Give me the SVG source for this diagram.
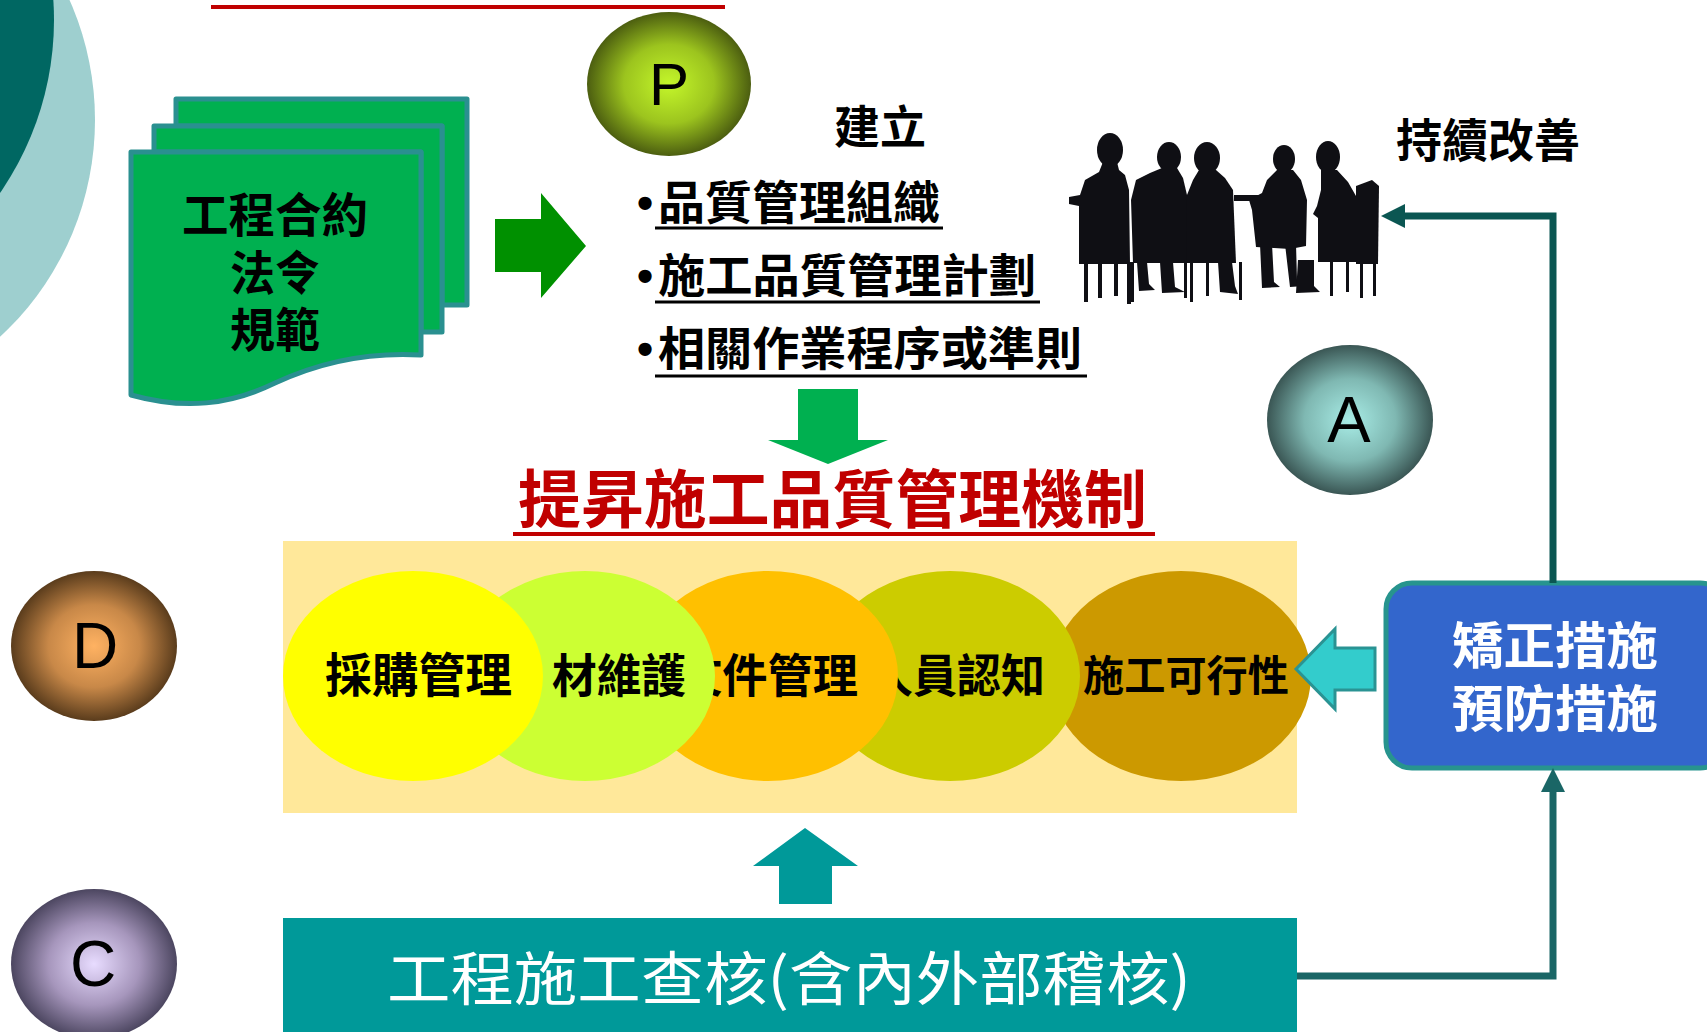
<svg xmlns="http://www.w3.org/2000/svg" width="1707" height="1032" viewBox="0 0 1707 1032">
  <style>
    .cjk { font-family: "Noto Sans CJK TC", "Noto Sans CJK SC", sans-serif; }
    .mix { font-family: "Liberation Sans", "Noto Sans CJK TC", "Noto Sans CJK SC", sans-serif; }
    .b { font-weight: 700; }
    .lat { font-family: "Liberation Sans", Arial, sans-serif; }
    .ink { fill: #000; }
    .page { fill: #00b050; stroke: #2a9090; stroke-width: 5; stroke-linejoin: round; }
    .uline { stroke: #000; stroke-width: 3; }
    .sil { fill: #0f0f14; }
    .circ-text { font-size: 46px; }
  </style>
  <defs>
    <radialGradient id="gP" cx="50%" cy="50%" r="50%">
      <stop offset="0" stop-color="#c4f62a"/>
      <stop offset="0.55" stop-color="#9cc41e"/>
      <stop offset="1" stop-color="#4c5e10"/>
    </radialGradient>
    <radialGradient id="gA" cx="50%" cy="50%" r="50%">
      <stop offset="0" stop-color="#a8ece6"/>
      <stop offset="0.55" stop-color="#7fb8b2"/>
      <stop offset="1" stop-color="#3a5654"/>
    </radialGradient>
    <radialGradient id="gD" cx="50%" cy="50%" r="50%">
      <stop offset="0" stop-color="#ffb262"/>
      <stop offset="0.55" stop-color="#c88848"/>
      <stop offset="1" stop-color="#5a3c1c"/>
    </radialGradient>
    <radialGradient id="gC" cx="50%" cy="50%" r="50%">
      <stop offset="0" stop-color="#e8dcff"/>
      <stop offset="0.55" stop-color="#a696bc"/>
      <stop offset="1" stop-color="#4c4660"/>
    </radialGradient>
    <marker id="headDark" viewBox="0 0 24 24" markerUnits="userSpaceOnUse" markerWidth="24" markerHeight="24" refX="10" refY="12" orient="auto">
      <path d="M0,0 L24,12 L0,24 Z" fill="#0b5652"/>
    </marker>
    <marker id="headTeal" viewBox="0 0 24 24" markerUnits="userSpaceOnUse" markerWidth="24" markerHeight="24" refX="10" refY="12" orient="auto">
      <path d="M0,0 L24,12 L0,24 Z" fill="#1a6666"/>
    </marker>
  </defs>

  <rect width="1707" height="1032" fill="#fff"/>

  <!-- decorative corner discs and header rule -->
  <g id="decor">
    <circle cx="-200" cy="120" r="295" fill="#9ecfcf"/>
    <circle cx="-250" cy="20" r="304" fill="#006762"/>
    <rect x="211" y="5" width="514" height="4" fill="#c00000"/>
  </g>

  <!-- stacked documents: contract / law / spec -->
  <g id="doc-stack">
    <path class="page" d="M176,99 H467 V305 H442 V126 H176 Z"/>
    <path class="page" d="M154,126 H442 V332 H421 V152 H154 Z"/>
    <path class="page" d="M131,152 H421 V355 C370,352 320,362 275,383 C230,405 185,410 131,395 Z"/>
    <text class="mix b ink" font-size="47" x="182" y="232" textLength="186" lengthAdjust="spacingAndGlyphs">工程合約</text>
    <text class="mix b ink" font-size="47" x="230" y="290" textLength="90" lengthAdjust="spacingAndGlyphs">法令</text>
    <text class="mix b ink" font-size="47" x="230" y="347" textLength="90" lengthAdjust="spacingAndGlyphs">規範</text>
  </g>

  <!-- P stage -->
  <g id="node-p">
    <ellipse cx="669" cy="84" rx="82" ry="72" fill="url(#gP)"/>
    <text class="lat" font-size="60" x="669" y="105" text-anchor="middle">P</text>
  </g>

  <!-- plan items -->
  <g id="plan-items">
    <text class="cjk b ink" font-size="45" x="834" y="144" textLength="92" lengthAdjust="spacingAndGlyphs">建立</text>
    <text class="lat b ink" font-size="46" x="637" y="219">•</text>
    <text class="cjk b ink" font-size="46" x="658" y="219" textLength="282" lengthAdjust="spacingAndGlyphs">品質管理組織</text>
    <line class="uline" x1="655" y1="228" x2="943" y2="228"/>
    <text class="lat b ink" font-size="46" x="637" y="292">•</text>
    <text class="cjk b ink" font-size="46" x="658" y="292" textLength="378" lengthAdjust="spacingAndGlyphs">施工品質管理計劃</text>
    <line class="uline" x1="655" y1="302" x2="1040" y2="302"/>
    <text class="lat b ink" font-size="46" x="637" y="365">•</text>
    <text class="cjk b ink" font-size="46" x="658" y="365" textLength="424" lengthAdjust="spacingAndGlyphs">相關作業程序或準則</text>
    <line class="uline" x1="655" y1="376" x2="1087" y2="376"/>
  </g>

  <!-- meeting silhouettes -->
  <g id="people">
    <text class="cjk b ink" font-size="46" x="1396" y="157" textLength="184" lengthAdjust="spacingAndGlyphs">持續改善</text>
    <g class="sil">
      <!-- figure 1 -->
      <ellipse cx="1110" cy="150" rx="13" ry="17"/>
      <path d="M1103,162 L1117,162 L1119,170 L1125,175 L1129,190 L1130,264 L1079,264 L1079,206 L1069,204 L1069,197 L1080,195 L1085,180 L1099,172 Z"/>
      <rect x="1084" y="262" width="4" height="40"/>
      <rect x="1098" y="262" width="4" height="36"/>
      <rect x="1114" y="262" width="4" height="34"/>
      <rect x="1127" y="262" width="4" height="42"/>
      <!-- figure 2 -->
      <ellipse cx="1169" cy="157" rx="12" ry="15"/>
      <path d="M1162,168 L1177,168 L1183,178 L1187,195 L1188,263 L1133,263 L1131,200 L1136,180 L1150,173 Z"/>
      <path d="M1137,262 L1147,262 L1149,284 L1155,290 L1139,291 Z"/>
      <path d="M1160,262 L1173,262 L1175,287 L1185,292 L1162,293 Z"/>
      <rect x="1131" y="262" width="3" height="40"/>
      <rect x="1184" y="262" width="3" height="36"/>
      <!-- figure 3 -->
      <ellipse cx="1207" cy="158" rx="13" ry="16"/>
      <path d="M1199,170 L1216,170 L1225,178 L1233,190 L1236,263 L1186,263 L1187,195 L1193,180 Z"/>
      <rect x="1234" y="195" width="28" height="6"/>
      <path d="M1218,262 L1232,262 L1235,286 L1238,294 L1220,292 Z"/>
      <rect x="1190" y="262" width="3" height="40"/>
      <rect x="1206" y="262" width="3" height="34"/>
      <rect x="1239" y="262" width="3" height="38"/>
      <!-- figure 4 -->
      <ellipse cx="1284" cy="159" rx="11" ry="14"/>
      <path d="M1277,170 L1293,170 L1301,180 L1307,200 L1306,246 L1290,249 L1256,247 L1252,210 L1249,200 L1262,193 L1267,180 Z"/>
      <path d="M1260,244 L1272,244 L1274,282 L1280,287 L1262,288 Z"/>
      <path d="M1285,244 L1296,244 L1297,280 L1304,286 L1290,287 Z"/>
      <!-- figure 5 -->
      <ellipse cx="1328" cy="157" rx="12" ry="16"/>
      <path d="M1321,170 L1337,170 L1348,182 L1356,196 L1360,262 L1318,262 L1318,218 L1313,214 L1317,206 L1321,190 Z"/>
      <path d="M1356,186 L1372,180 L1379,186 L1378,264 L1356,264 Z"/>
      <path d="M1298,260 L1314,260 L1314,286 L1320,292 L1296,293 Z"/>
      <rect x="1330" y="262" width="3" height="34"/>
      <rect x="1346" y="262" width="3" height="30"/>
      <rect x="1360" y="262" width="3" height="36"/>
      <rect x="1373" y="262" width="3" height="34"/>
    </g>
  </g>

  <!-- A stage -->
  <g id="node-a">
    <ellipse cx="1350" cy="420" rx="83" ry="75" fill="url(#gA)"/>
    <text class="lat" font-size="65" x="1349" y="442" text-anchor="middle">A</text>
  </g>

  <!-- mechanism heading -->
  <g id="title">
    <text class="cjk b" fill="#c00000" font-size="63" x="518" y="522" textLength="629" lengthAdjust="spacingAndGlyphs">提昇施工品質管理機制</text>
    <rect x="513" y="532" width="642" height="4" fill="#c00000"/>
  </g>

  <!-- mechanism band, right-to-left so each disc overlaps its right neighbour -->
  <g id="mechanism">
    <rect x="283" y="541" width="1014" height="272" fill="#ffe89a"/>
    <ellipse cx="1181" cy="676" rx="130" ry="105" fill="#cc9900"/>
    <text class="cjk b ink" font-size="42" x="1083" y="691" textLength="206" lengthAdjust="spacingAndGlyphs">施工可行性</text>
    <ellipse cx="950" cy="676" rx="130" ry="105" fill="#cccc00"/>
    <text class="cjk b ink circ-text" x="869" y="692" textLength="176" lengthAdjust="spacingAndGlyphs">人員認知</text>
    <ellipse cx="768" cy="676" rx="130" ry="105" fill="#ffc000"/>
    <text class="cjk b ink circ-text" x="677" y="692" textLength="181" lengthAdjust="spacingAndGlyphs">文件管理</text>
    <ellipse cx="585" cy="676" rx="130" ry="105" fill="#ccff33"/>
    <text class="cjk b ink circ-text" x="552" y="692" textLength="134" lengthAdjust="spacingAndGlyphs">材維護</text>
    <ellipse cx="413" cy="676" rx="130" ry="105" fill="#ffff00"/>
    <text class="cjk b ink" font-size="47" x="325" y="692" textLength="187" lengthAdjust="spacingAndGlyphs">採購管理</text>
  </g>

  <!-- D stage -->
  <g id="node-d">
    <ellipse cx="94" cy="646" rx="83" ry="75" fill="url(#gD)"/>
    <text class="lat" font-size="64" x="95" y="668" text-anchor="middle">D</text>
  </g>

  <!-- C stage -->
  <g id="node-c">
    <ellipse cx="94" cy="964" rx="83" ry="75" fill="url(#gC)"/>
    <text class="lat" font-size="64" x="93" y="986" text-anchor="middle">C</text>
  </g>

  <!-- corrective / preventive actions -->
  <g id="action-box">
    <rect x="1386" y="583" width="340" height="185" rx="26" fill="#3366cc" stroke="#27948e" stroke-width="5"/>
    <text class="mix b" fill="#fff" font-size="50" x="1452" y="664" textLength="206" lengthAdjust="spacingAndGlyphs">矯正措施</text>
    <text class="mix b" fill="#fff" font-size="50" x="1452" y="727" textLength="206" lengthAdjust="spacingAndGlyphs">預防措施</text>
  </g>

  <!-- audit bar -->
  <g id="audit-bar">
    <rect x="283" y="918" width="1014" height="120" fill="#009999"/>
    <text class="cjk" fill="#fff" font-size="58" x="387" y="1000" textLength="804" lengthAdjust="spacingAndGlyphs">工程施工查核(含內外部稽核)</text>
  </g>

  <!-- connectors and block arrows -->
  <g id="connectors">
    <path d="M495,219 H541 V193 L586,246 L541,298 V272 H495 Z" fill="#009000"/>
    <path d="M798,389 H858 V440 H888 L828,464 L768,440 H798 Z" fill="#00b050"/>
    <path d="M779,904 V866 H753 L805,828 L858,866 H832 V904 Z" fill="#009999"/>
    <path d="M1296,669 L1335,629 V648 H1375 V690 H1335 V709 Z" fill="#33cccc" stroke="#2a9393" stroke-width="3" stroke-linejoin="miter"/>
    <path d="M1553,583 V216 H1395" fill="none" stroke="#0b5652" stroke-width="7" marker-end="url(#headDark)"/>
    <path d="M1297,976 H1553 V782" fill="none" stroke="#1a6666" stroke-width="7" marker-end="url(#headTeal)"/>
  </g>
</svg>
